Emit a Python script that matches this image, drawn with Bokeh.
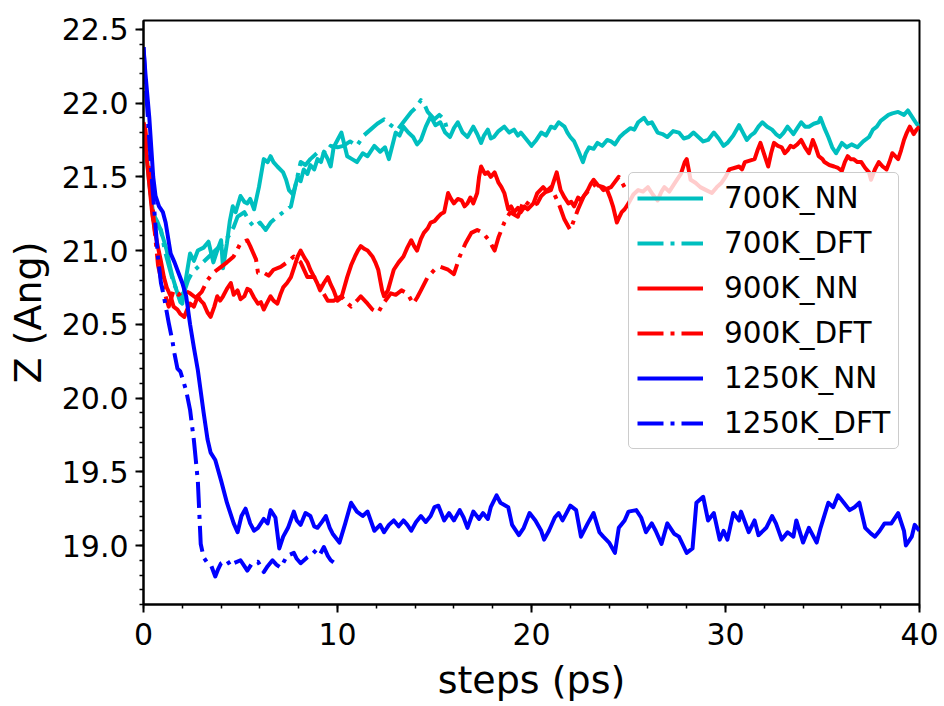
from bokeh.plotting import figure
from bokeh.models import (Legend, LegendItem, SingleIntervalTicker,
                          PrintfTickFormatter, Range1d)
from bokeh.embed import file_html
from bokeh.resources import INLINE

# ---------------- data ----------------
series_labels = ["700K_NN", "700K_DFT", "900K_NN", "900K_DFT", "1250K_NN", "1250K_DFT"]
x_ticks_interval = 10
y_ticks_interval = 0.5

t_700_nn = [0.0, 0.15, 0.3, 0.5, 0.7, 0.85, 1.0, 1.2, 1.35, 1.5, 1.75, 1.9, 2.0, 2.15, 2.4, 2.6, 2.8, 3.1,
            3.35, 3.6, 3.8, 4.0, 4.1, 4.3, 4.45, 4.6, 4.75, 5.0, 5.2, 5.35, 5.5, 5.7, 5.95, 6.2, 6.4, 6.55,
            6.7, 6.9, 7.2, 7.35, 7.5, 7.7, 7.95, 8.1, 8.26, 8.45, 8.6, 8.8, 8.97, 9.15, 9.3, 9.5, 9.65, 9.8,
            10.0, 10.2, 10.5, 10.75, 11.0, 11.3, 11.55, 11.9, 12.2, 12.45, 12.65, 13.0, 13.2, 13.4, 13.65,
            13.9, 14.1, 14.3, 14.55, 14.8, 15.05, 15.3, 15.55, 15.8, 16.0, 16.2, 16.45, 16.7, 17.0, 17.2,
            17.4, 17.55, 17.75, 17.9, 18.06, 18.3, 18.6, 18.85, 19.1, 19.3, 19.45, 19.7, 20.0, 20.25, 20.5,
            20.75, 21.0, 21.2, 21.4, 21.7, 21.85, 22.0, 22.2, 22.4, 22.65, 22.8, 22.97, 23.2, 23.4, 23.65,
            23.9, 24.1, 24.3, 24.55, 24.8, 25.1, 25.3, 25.5, 25.8, 26.0, 26.2, 26.5, 26.75, 27.0, 27.3, 27.6,
            27.85, 28.1, 28.35, 28.6, 28.85, 29.1, 29.4, 29.65, 29.9, 30.1, 30.4, 30.7, 30.9, 31.1, 31.3,
            31.5, 31.7, 31.9, 32.15, 32.4, 32.6, 32.8, 33.0, 33.2, 33.5, 33.7, 33.9, 34.1, 34.3, 34.55,
            34.8, 34.9, 35.1, 35.3, 35.5, 35.7, 36.0, 36.25, 36.5, 36.8, 37.1, 37.4, 37.6, 37.8, 38.0, 38.2,
            38.4, 38.6, 38.9, 39.2, 39.4, 39.55, 39.7, 39.85, 40.0]
z_700_nn = [21.85, 21.65, 21.45, 21.25, 21.2, 21.15, 21.09, 21.0, 20.9, 20.82, 20.71, 20.65, 20.64, 20.78,
            20.98, 20.93, 21.0, 21.02, 21.06, 20.92, 21.0, 21.07, 20.88, 21.05, 21.2, 21.3, 21.26, 21.37,
            21.33, 21.32, 21.35, 21.28, 21.43, 21.62, 21.6, 21.64, 21.6, 21.57, 21.53, 21.48, 21.41, 21.38,
            21.5, 21.47, 21.55, 21.52, 21.58, 21.55, 21.62, 21.6, 21.67, 21.62, 21.57, 21.7, 21.75, 21.8,
            21.64, 21.62, 21.6, 21.66, 21.64, 21.71, 21.67, 21.7, 21.62, 21.8, 21.78, 21.84, 21.8, 21.77,
            21.72, 21.75, 21.84, 21.91, 21.85, 21.87, 21.8, 21.77, 21.83, 21.87, 21.8, 21.77, 21.84, 21.79,
            21.73, 21.78, 21.82, 21.76, 21.77, 21.81, 21.84, 21.8, 21.82, 21.78, 21.8, 21.76, 21.71, 21.75,
            21.8, 21.78, 21.84, 21.83, 21.87, 21.84, 21.8, 21.77, 21.74, 21.68, 21.6, 21.66, 21.7, 21.69,
            21.73, 21.71, 21.75, 21.74, 21.72, 21.77, 21.8, 21.83, 21.82, 21.87, 21.9, 21.86, 21.87, 21.8,
            21.79, 21.77, 21.81, 21.8, 21.76, 21.77, 21.8, 21.77, 21.74, 21.75, 21.8, 21.76, 21.71, 21.73,
            21.78, 21.85, 21.8, 21.75, 21.78, 21.8, 21.84, 21.87, 21.84, 21.82, 21.79, 21.77, 21.8, 21.84,
            21.79, 21.83, 21.87, 21.84, 21.84, 21.86, 21.87, 21.9, 21.83, 21.77, 21.7, 21.66, 21.73, 21.7,
            21.72, 21.7, 21.74, 21.77, 21.82, 21.84, 21.88, 21.9, 21.92, 21.93, 21.94, 21.92, 21.95, 21.92,
            21.89, 21.86, 21.84]

t_700_dft = [0.0, 0.2, 0.4, 0.5, 0.7, 0.9, 1.1, 1.3, 1.55, 1.75, 1.9, 2.1, 2.3, 2.5, 2.9, 3.3, 3.7, 4.1,
             4.4, 4.65, 4.85, 5.2, 5.45, 5.7, 6.0, 6.3, 6.55, 6.9, 7.2, 7.6, 7.8, 8.1, 8.35, 8.6, 8.85, 9.1,
             9.4, 9.65, 10.0, 10.3, 10.65, 11.0, 11.35, 11.7, 12.05, 12.4, 12.75, 13.1, 13.45, 13.8, 14.05,
             14.3, 14.45, 14.65, 15.0, 15.25, 15.5, 15.7]
z_700_dft = [21.85, 21.6, 21.35, 21.21, 21.18, 21.14, 21.0, 20.9, 20.78, 20.72, 20.69, 20.72, 20.8, 20.85,
             20.9, 20.95, 21.0, 21.05, 21.1, 21.16, 21.23, 21.26, 21.2, 21.16, 21.19, 21.14, 21.19, 21.23,
             21.26, 21.3, 21.42, 21.6, 21.58, 21.62, 21.65, 21.68, 21.66, 21.71, 21.7, 21.71, 21.74, 21.71,
             21.78, 21.82, 21.86, 21.89, 21.85, 21.82, 21.88, 21.94, 21.97, 22.02, 22.0, 21.94, 21.89,
             21.92, 21.89, 21.8]

t_900_nn = [0.0, 0.15, 0.3, 0.45, 0.6, 0.75, 0.88, 1.05, 1.2, 1.4, 1.55, 1.75, 1.9, 2.1, 2.25, 2.4, 2.6,
            2.8, 2.95, 3.1, 3.3, 3.46, 3.65, 3.8, 3.95, 4.1, 4.3, 4.5, 4.65, 4.85, 5.0, 5.2, 5.35, 5.5, 5.7,
            5.9, 6.05, 6.2, 6.35, 6.55, 6.7, 6.9, 7.05, 7.2, 7.4, 7.6, 7.8, 7.95, 8.1, 8.3, 8.45, 8.6, 8.8,
            8.95, 9.1, 9.3, 9.5, 9.65, 9.8, 10.0, 10.2, 10.5, 10.7, 10.9, 11.05, 11.2, 11.4, 11.55, 11.8,
            11.95, 12.1, 12.2, 12.3, 12.4, 12.6, 12.75, 12.9, 13.15, 13.4, 13.6, 13.8, 13.95, 14.1, 14.3,
            14.45, 14.65, 14.8, 15.0, 15.2, 15.35, 15.5, 15.7, 15.85, 16.0, 16.2, 16.4, 16.55, 16.7, 16.85,
            17.0, 17.2, 17.3, 17.4, 17.6, 17.75, 17.9, 18.1, 18.3, 18.45, 18.6, 18.8, 18.95, 19.1, 19.3,
            19.45, 19.65, 19.8, 20.1, 20.3, 20.6, 20.8, 21.0, 21.15, 21.3, 21.5, 21.7, 21.9, 22.05, 22.2,
            22.4, 22.55, 22.75, 22.9, 23.05, 23.2, 23.45, 23.7, 23.9, 24.05, 24.2, 24.4, 24.5, 24.65, 24.8,
            25.0, 25.25, 25.5, 25.75, 26.0, 26.25, 26.5, 26.7, 26.85, 27.1, 27.4, 27.7, 27.9, 28.0, 28.1,
            28.2, 28.45, 28.7, 29.0, 29.3, 29.55, 29.8, 30.0, 30.2, 30.45, 30.7, 30.85, 31.0, 31.25, 31.5,
            31.65, 31.8, 32.0, 32.2, 32.35, 32.5, 32.7, 32.9, 33.05, 33.2, 33.35, 33.5, 33.7, 33.9, 34.1,
            34.3, 34.5, 34.65, 34.8, 35.0, 35.1, 35.35, 35.6, 35.8, 36.0, 36.15, 36.3, 36.45, 36.6, 36.8,
            37.0, 37.2, 37.4, 37.5, 37.7, 37.9, 38.1, 38.3, 38.45, 38.6, 38.75, 38.9, 39.05, 39.2, 39.35,
            39.5, 39.7, 39.85, 40.0]
z_900_nn = [21.85, 21.65, 21.45, 21.25, 21.12, 21.02, 20.94, 20.82, 20.75, 20.69, 20.62, 20.6, 20.57,
            20.55, 20.6, 20.64, 20.62, 20.69, 20.66, 20.64, 20.58, 20.55, 20.62, 20.69, 20.66, 20.69, 20.74,
            20.78, 20.7, 20.73, 20.67, 20.69, 20.74, 20.73, 20.68, 20.64, 20.65, 20.6, 20.64, 20.69, 20.66,
            20.64, 20.7, 20.75, 20.78, 20.82, 20.9, 20.96, 21.0, 20.95, 20.92, 20.87, 20.82, 20.78, 20.73,
            20.78, 20.82, 20.77, 20.73, 20.66, 20.68, 20.82, 20.9, 20.96, 21.0, 21.03, 21.01, 21.0, 20.96,
            20.92, 20.87, 20.8, 20.73, 20.69, 20.73, 20.8, 20.87, 20.92, 20.96, 21.02, 21.07, 21.03, 21.0,
            21.08, 21.12, 21.15, 21.19, 21.2, 21.23, 21.25, 21.26, 21.39, 21.35, 21.32, 21.35, 21.34, 21.3,
            21.32, 21.36, 21.32, 21.39, 21.5, 21.57, 21.52, 21.53, 21.5, 21.53, 21.46, 21.43, 21.39, 21.28,
            21.3, 21.26, 21.29, 21.26, 21.3, 21.28, 21.32, 21.39, 21.43, 21.4, 21.41, 21.47, 21.53, 21.41,
            21.36, 21.32, 21.33, 21.3, 21.36, 21.34, 21.38, 21.41, 21.45, 21.48, 21.44, 21.43, 21.41, 21.36,
            21.3, 21.19, 21.22, 21.26, 21.28, 21.32, 21.38, 21.41, 21.4, 21.43, 21.38, 21.34, 21.4, 21.43,
            21.4, 21.46, 21.52, 21.6, 21.62, 21.55, 21.48, 21.46, 21.43, 21.41, 21.39, 21.43, 21.46, 21.5,
            21.55, 21.56, 21.57, 21.55, 21.6, 21.61, 21.62, 21.68, 21.73, 21.65, 21.57, 21.66, 21.73, 21.71,
            21.7, 21.66, 21.68, 21.71, 21.7, 21.72, 21.75, 21.7, 21.66, 21.75, 21.7, 21.64, 21.62, 21.6,
            21.58, 21.57, 21.56, 21.54, 21.6, 21.64, 21.62, 21.62, 21.6, 21.6, 21.56, 21.53, 21.48, 21.55,
            21.6, 21.57, 21.55, 21.6, 21.66, 21.64, 21.62, 21.68, 21.75, 21.8, 21.84, 21.79, 21.82, 21.84]

t_900_dft = [0.0, 0.1, 0.25, 0.4, 0.6, 0.75, 1.0, 1.3, 1.55, 1.8, 2.1, 2.4, 2.7, 3.0, 3.3, 3.6, 4.0, 4.3,
             4.65, 5.0, 5.35, 5.5, 5.8, 5.9, 6.2, 6.45, 6.7, 7.07, 7.4, 7.75, 8.1, 8.45, 8.8, 9.1, 9.5, 9.8,
             10.2, 10.45, 10.7, 11.0, 11.2, 11.55, 11.8, 12.1, 12.35, 12.75, 13.0, 13.3, 13.6, 13.9, 14.1,
             14.3, 14.65, 15.0, 15.3, 15.7, 16.0, 16.3, 16.6, 16.9, 17.2, 17.5, 17.8, 18.1, 18.3, 18.6,
             18.9, 19.3, 19.6, 20.0, 20.3, 20.5, 21.0, 21.4, 21.7, 22.0, 22.4, 22.7, 23.1, 23.4, 23.7, 24.1,
             24.5, 24.8, 25.0]
z_900_dft = [21.87, 21.82, 21.6, 21.4, 21.1, 20.9, 20.75, 20.62, 20.73, 20.7, 20.73, 20.71, 20.68, 20.72,
             20.8, 20.85, 20.89, 20.92, 20.96, 21.05, 21.07, 21.03, 20.94, 20.85, 20.85, 20.83, 20.87, 20.89,
             20.92, 20.96, 20.92, 20.82, 20.82, 20.75, 20.66, 20.66, 20.69, 20.65, 20.62, 20.66, 20.69, 20.64,
             20.6, 20.58, 20.64, 20.71, 20.7, 20.73, 20.71, 20.64, 20.68, 20.73, 20.82, 20.87, 20.89, 20.87,
             20.84, 20.96, 21.05, 21.12, 21.14, 21.12, 21.07, 21.0, 21.09, 21.19, 21.26, 21.23, 21.34, 21.3,
             21.32, 21.37, 21.43, 21.32, 21.21, 21.14, 21.28, 21.37, 21.43, 21.46, 21.41, 21.43, 21.5, 21.43,
             21.41]

t_1250_nn = [0.0, 0.1, 0.2, 0.3, 0.4, 0.5, 0.62, 0.8, 1.0, 1.14, 1.4, 1.6, 1.8, 2.0, 2.2, 2.4, 2.6, 2.8,
             3.1, 3.3, 3.46, 3.7, 4.0, 4.3, 4.65, 4.85, 5.05, 5.26, 5.5, 5.7, 5.9, 6.2, 6.4, 6.55, 6.8, 7.0,
             7.2, 7.45, 7.75, 7.9, 8.1, 8.35, 8.6, 8.8, 8.97, 9.2, 9.4, 9.6, 9.75, 10.1, 10.4, 10.7, 11.0,
             11.3, 11.55, 11.9, 12.2, 12.4, 12.65, 12.9, 13.15, 13.4, 13.6, 13.8, 14.05, 14.3, 14.55, 14.8,
             15.0, 15.2, 15.5, 15.75, 16.0, 16.3, 16.5, 16.7, 17.0, 17.3, 17.5, 17.75, 17.9, 18.2, 18.4,
             18.8, 19.0, 19.35, 19.6, 19.9, 20.2, 20.5, 20.65, 20.9, 21.2, 21.4, 21.6, 21.8, 22.0, 22.3,
             22.55, 22.9, 23.2, 23.5, 23.7, 24.0, 24.3, 24.5, 24.8, 25.0, 25.4, 25.65, 25.9, 26.2, 26.4,
             26.7, 27.0, 27.35, 27.6, 28.0, 28.3, 28.5, 28.85, 29.1, 29.4, 29.7, 29.9, 30.1, 30.4, 30.7,
             30.8, 31.2, 31.5, 31.7, 32.1, 32.4, 32.6, 32.9, 33.2, 33.5, 33.65, 34.0, 34.3, 34.7, 34.9,
             35.3, 35.55, 35.8, 36.1, 36.4, 36.65, 36.9, 37.2, 37.5, 37.7, 37.95, 38.2, 38.55, 38.9, 39.2,
             39.3, 39.6, 39.75, 40.0]
z_1250_nn = [22.38, 22.2, 22.05, 21.9, 21.7, 21.5, 21.37, 21.3, 21.26, 21.19, 20.98, 20.92, 20.85, 20.78,
             20.69, 20.5, 20.34, 20.19, 19.9, 19.72, 19.63, 19.58, 19.44, 19.29, 19.15, 19.09, 19.2, 19.25,
             19.15, 19.1, 19.12, 19.18, 19.15, 19.24, 19.19, 18.98, 19.06, 19.12, 19.23, 19.17, 19.14,
             19.22, 19.2, 19.13, 19.12, 19.16, 19.2, 19.12, 19.08, 19.02, 19.15, 19.29, 19.23, 19.2, 19.23,
             19.1, 19.14, 19.09, 19.14, 19.17, 19.13, 19.17, 19.14, 19.1, 19.16, 19.2, 19.16, 19.2, 19.26,
             19.27, 19.17, 19.22, 19.17, 19.24, 19.19, 19.12, 19.23, 19.18, 19.22, 19.18, 19.26, 19.34,
             19.29, 19.26, 19.14, 19.07, 19.12, 19.22, 19.17, 19.1, 19.04, 19.1, 19.19, 19.22, 19.17, 19.22,
             19.27, 19.24, 19.06, 19.15, 19.22, 19.09, 19.06, 19.02, 18.95, 19.12, 19.17, 19.23, 19.24,
             19.19, 19.09, 19.15, 19.1, 19.01, 19.15, 19.08, 19.06, 18.95, 18.98, 19.29, 19.33, 19.17,
             19.22, 19.04, 19.1, 19.04, 19.22, 19.17, 19.23, 19.09, 19.17, 19.07, 19.12, 19.2, 19.15, 19.04,
             19.09, 19.06, 19.17, 19.02, 19.12, 19.02, 19.12, 19.29, 19.26, 19.34, 19.29, 19.24, 19.26,
             19.29, 19.12, 19.08, 19.06, 19.1, 19.15, 19.15, 19.22, 19.1, 19.0, 19.06, 19.14, 19.1]

t_1250_dft = [0.0, 0.1, 0.2, 0.3, 0.45, 0.6, 0.75, 0.9, 1.05, 1.3, 1.5, 1.6, 1.75, 1.9, 2.2, 2.4, 2.6, 2.8,
              2.95, 3.1, 3.35, 3.5, 3.7, 3.85, 4.0, 4.3, 4.5, 4.65, 5.0, 5.2, 5.35, 5.6, 5.9, 6.2, 6.4,
              6.65, 6.85, 7.07, 7.4, 7.75, 7.9, 8.1, 8.45, 8.7, 8.9, 9.1, 9.3, 9.5, 9.65, 9.85]
z_1250_dft = [22.38, 22.15, 21.95, 21.75, 21.45, 21.2, 20.95, 20.78, 20.69, 20.51, 20.38, 20.3, 20.2, 20.18,
              20.05, 19.92, 19.71, 19.44, 19.01, 18.92, 18.87, 18.86, 18.79, 18.84, 18.88, 18.9, 18.86,
              18.88, 18.9, 18.86, 18.83, 18.88, 18.89, 18.82, 18.86, 18.9, 18.87, 18.85, 18.93, 18.95,
              18.91, 18.88, 18.92, 18.94, 18.97, 18.94, 18.99, 18.93, 18.9, 18.88]

x_limits = (0, 40)
y_limits = (18.6, 22.56)

# ---------------- figure ----------------
FONT = "DejaVu Sans"
p = figure(width=940, height=704, output_backend="svg", toolbar_location=None,
           x_range=Range1d(*x_limits), y_range=Range1d(*y_limits),
           min_border_left=143, min_border_right=21, min_border_top=20, min_border_bottom=99,
           background_fill_color="white", border_fill_color="white")
p.xgrid.visible = False
p.ygrid.visible = False
p.outline_line_color = "black"
p.outline_line_width = 2
p.outline_line_alpha = 1.0

p.xaxis.ticker = SingleIntervalTicker(interval=x_ticks_interval, num_minor_ticks=5)
p.yaxis.ticker = SingleIntervalTicker(interval=y_ticks_interval, num_minor_ticks=5)
p.xaxis.formatter = PrintfTickFormatter(format="%d")
p.yaxis.formatter = PrintfTickFormatter(format="%.1f")
p.xaxis.axis_label = "steps (ps)"
p.yaxis.axis_label = "Z (Ang)"
for ax in (p.xaxis, p.yaxis):
    ax.axis_line_width = 2
    ax.axis_line_color = "black"
    ax.major_tick_in = 0
    ax.major_tick_out = 8
    ax.minor_tick_in = 0
    ax.minor_tick_out = 4
    ax.major_tick_line_width = 2
    ax.minor_tick_line_width = 1.5
    ax.major_tick_line_color = "black"
    ax.minor_tick_line_color = "black"
    ax.major_label_text_font = FONT
    ax.major_label_text_font_size = "30px"
    ax.major_label_text_color = "black"
    ax.axis_label_text_font = FONT
    ax.axis_label_text_font_size = "38px"
    ax.axis_label_text_font_style = "normal"
    ax.axis_label_text_color = "black"
p.xaxis.major_label_standoff = 10
p.yaxis.major_label_standoff = 7
p.xaxis.axis_label_standoff = 10
p.yaxis.axis_label_standoff = 9

CYAN = "#00BFBF"
RED = "#FF0000"
BLUE = "#0000FF"
LW = 4
DASHDOT = "26 7 4 7"

specs = [
    (t_700_nn, z_700_nn, CYAN, "solid"),
    (t_700_dft, z_700_dft, CYAN, DASHDOT),
    (t_900_nn, z_900_nn, RED, "solid"),
    (t_900_dft, z_900_dft, RED, DASHDOT),
    (t_1250_nn, z_1250_nn, BLUE, "solid"),
    (t_1250_dft, z_1250_dft, BLUE, DASHDOT),
]
items = []
for (tt, zz, col, dash), lab in zip(specs, series_labels):
    r = p.line(tt, zz, line_color=col, line_width=LW, line_dash=dash,
               line_join="round", line_cap="butt")
    items.append(LegendItem(label=lab, renderers=[r]))

legend = Legend(items=items, location=(485, 155), margin=0, padding=8,
                spacing=11, glyph_width=66, glyph_height=34, label_height=34,
                label_standoff=21, label_text_font=FONT, label_text_font_size="29.5px",
                label_text_color="black",
                border_line_color="#cccccc", border_line_width=1.5, border_line_alpha=1.0,
                background_fill_color="white", background_fill_alpha=0.8)
if "border_radius" in Legend.properties():
    legend.border_radius = 5
p.add_layout(legend)

open("out.html", "w").write(file_html(p, INLINE))
